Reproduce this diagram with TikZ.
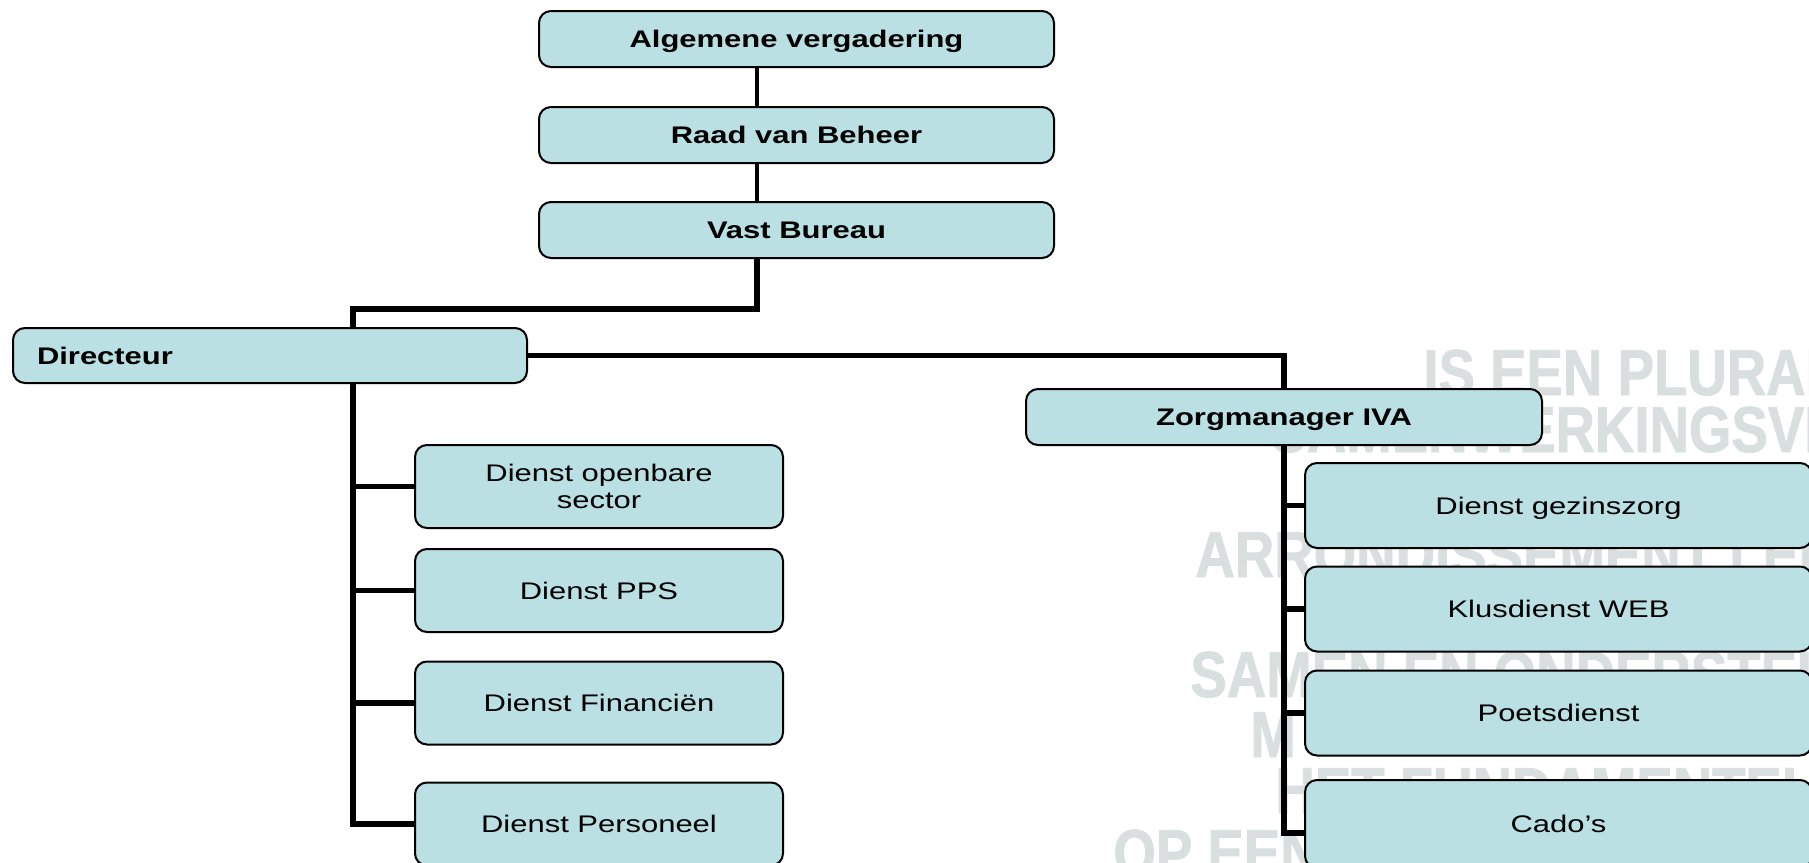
\documentclass[tikz,border=0pt]{standalone}
\usepackage{fontspec}
\setmainfont{Liberation Sans}[FakeStretch=1.29]
\newfontfamily\wmfont{Liberation Sans}[FakeStretch=0.84,FakeBold=1.2]
\definecolor{boxfill}{RGB}{186,224,227}
\definecolor{wmgray}{RGB}{217,223,223}
\begin{document}
\begin{tikzpicture}[x=0.5pt,y=-0.5pt,
  orgbox/.style={draw=black, line width=1pt, fill=boxfill, rounded corners=6pt,
     inner sep=0pt, text depth=0pt, font=\fontsize{12}{13.3}\selectfont},
  topbox/.style={orgbox, minimum width=257.5pt, minimum height=28pt, font=\fontsize{12}{13.3}\selectfont\bfseries},
  leftkid/.style={orgbox, minimum width=184pt, minimum height=41.5pt, align=center},
  rightkid/.style={orgbox, minimum width=253.5pt, minimum height=42.5pt, align=center},
  conn/.style={draw=black, line width=2.8pt},
  thinconn/.style={draw=black, line width=2.3pt},
  wm/.style={anchor=base west, inner sep=0pt, text=wmgray, font=\wmfont\fontsize{32.5}{34}\selectfont\bfseries}
]
\clip (0,0) rectangle (1809,862);
\fill[white] (0,0) rectangle (1809,862);

% watermark
\node[wm] (w1) at (1423,395) {IS EEN PLURALISTISCH};
\node[wm] (w2) at (1270,452) {SAMENWERKINGSVERBAND};
\node[wm] (w3) at (1195,577) {ARRONDISSEMENT LEUVEN};
\node[wm] (w4) at (1190,697) {SAMEN EN ONDERSTEUNING};
\node[wm] (w5) at (1250,757) {M};
\node[wm] (w6) at (1275,813) {HET FUNDAMENTELE};
\node[wm] (w7) at (1113,875) {OP EEN};

% nodes
\node[topbox] (alg)  at (796.5,39)  {Algemene vergadering};
\node[topbox] (raad) at (796.5,135) {Raad van Beheer};
\node[topbox] (vast) at (796.5,230) {Vast Bureau};
\node[orgbox, minimum width=257pt, minimum height=27.5pt, text width=233pt, align=left,
      font=\fontsize{12}{13.3}\selectfont\bfseries] (dir) at (270,355.5) {Directeur};
\node[topbox, minimum width=258pt] (zorg) at (1284,417) {Zorgmanager IVA};

\node[leftkid, text depth=] (l1) at (599,486.5) {Dienst openbare\\sector};
\node[leftkid] (l2) at (599,590.5) {Dienst PPS};
\node[leftkid] (l3) at (599,703)   {Dienst Financiën};
\node[leftkid] (l4) at (599,824)   {Dienst Personeel};

\node[rightkid] (r1) at (1558.5,505.5) {Dienst gezinszorg};
\node[rightkid] (r2) at (1558.5,609)   {Klusdienst WEB};
\node[rightkid] (r3) at (1558.5,713)   {Poetsdienst};
\node[rightkid, minimum height=44pt] (r4) at (1558.5,824) {Cado’s};

% connectors
\coordinate (topspine) at (757,0);
\coordinate (dspine) at (353,0);
\draw[thinconn] (alg.south -| topspine) -- (raad.north -| topspine);
\draw[thinconn] (raad.south -| topspine) -- (vast.north -| topspine);
\draw[conn] (vast.south -| topspine) -- ++(0,50) -| (dir.north -| dspine);
\draw[conn] (dir.east) -| (zorg.north);

\draw[conn] (dir.south -| dspine) |- (l4.west);
\draw[conn] (dspine |- l1.west) -- (l1.west);
\draw[conn] (dspine |- l2.west) -- (l2.west);
\draw[conn] (dspine |- l3.west) -- (l3.west);

\draw[conn] (zorg.south) |- ([yshift=-4.5pt]r4.west);
\draw[conn] (zorg.south |- r1.west) -- (r1.west);
\draw[conn] (zorg.south |- r2.west) -- (r2.west);
\draw[conn] (zorg.south |- r3.west) -- (r3.west);
\end{tikzpicture}
\end{document}
